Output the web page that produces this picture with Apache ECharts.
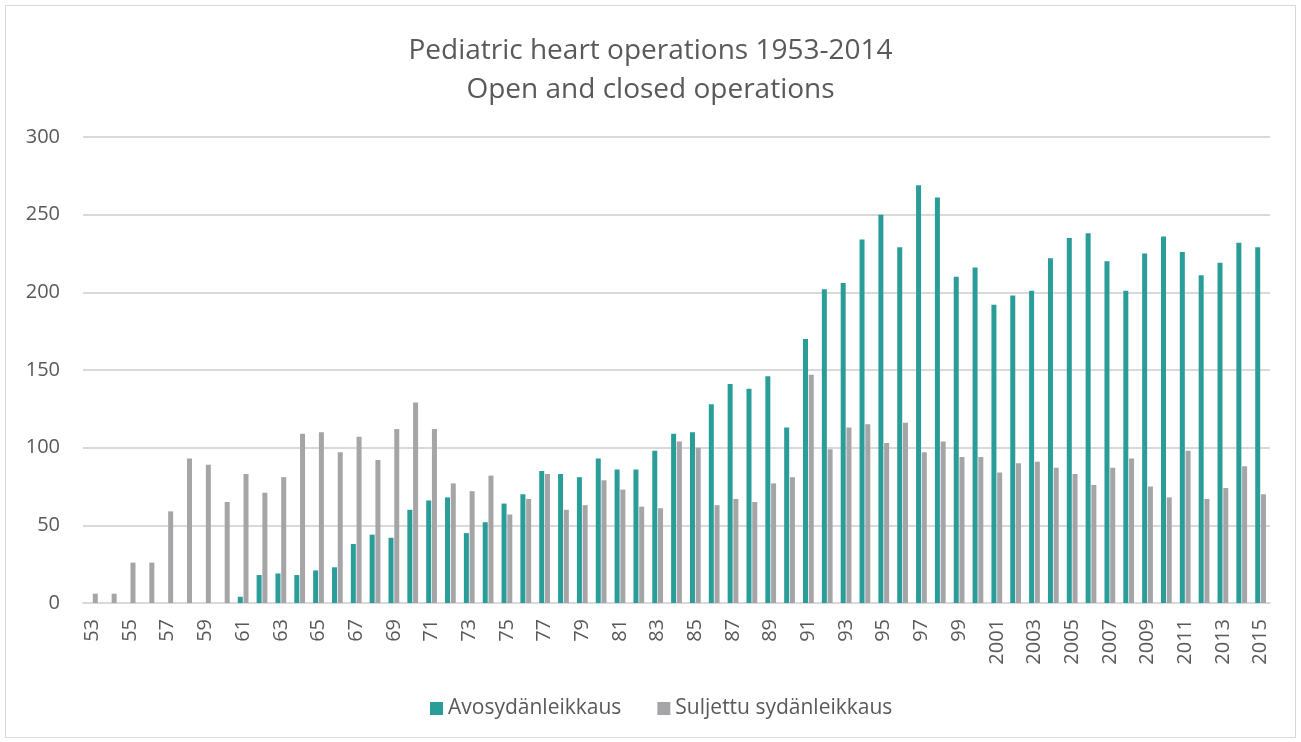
<!DOCTYPE html>
<html>
<head>
<meta charset="utf-8">
<script src="https://cdn.jsdelivr.net/npm/echarts@6/dist/echarts.min.js"></script>
<style>
  html, body { margin: 0; padding: 0; background: #fff; }
  #main { position: absolute; left: 5px; top: 5px; width: 1289px; height: 731px; border: 1px solid #d9d9d9; }
</style>
</head>
<body>
<div id="main"></div>
<script>
const years = ['53','54','55','56','57','58','59','60','61','62','63','64','65','66','67','68','69','70','71','72',
  '73','74','75','76','77','78','79','80','81','82','83','84','85','86','87','88','89','90','91','92','93','94','95',
  '96','97','98','99','2000','2001','2002','2003','2004','2005','2006','2007','2008','2009','2010','2011','2012',
  '2013','2014','2015']

const avoValues = [0,0,0,0,0,0,0,0,4,18,19,18,21,23,38,44,42,60,66,68,
  45,52,64,70,85,83,81,93,86,86,98,109,110,128,141,138,146,113,170,202,206,234,250,
  229,269,261,210,216,192,198,201,222,235,238,220,201,225,236,226,211,
  219,232,229]

const suljettuValues = [6,6,26,26,59,93,89,65,83,71,81,109,110,97,107,92,112,129,112,77,
  72,82,57,67,83,60,63,79,73,62,61,104,100,63,67,65,77,81,147,99,113,115,103,
  116,97,104,94,94,84,90,91,87,83,76,87,93,75,68,98,67,
  74,88,70]

const yTicks = [0, 50, 100, 150, 200, 250, 300]

const fontFam = '"Open Sans", "Liberation Sans", sans-serif'
const textCol = '#595959'

let myChart = echarts.init(document.getElementById('main'))
myChart.setOption({
  animation: false,
  color: ['#2a9d99', '#a5a5a8'],
  title: {
    text: 'Pediatric heart operations 1953-2014\nOpen and closed operations',
    left: 'center',
    top: 21,
    textStyle: {
      fontFamily: fontFam,
      fontSize: 28,
      fontWeight: 'normal',
      color: textCol,
      lineHeight: 39
    }
  },
  legend: {
    bottom: 13,
    left: 419,
    itemWidth: 13,
    itemHeight: 13,
    itemGap: 36,
    icon: 'rect',
    textStyle: {
      fontFamily: fontFam,
      fontSize: 21,
      color: textCol
    }
  },
  grid: {
    left: 77,
    right: 25,
    top: 131,
    bottom: 134
  },
  xAxis: {
    type: 'category',
    data: years,
    axisLine: {
      lineStyle: { color: '#d9d9d9', width: 2 }
    },
    axisTick: { show: false },
    axisLabel: {
      interval: 1,
      rotate: 90,
      margin: 16,
      fontFamily: fontFam,
      fontSize: 20,
      color: textCol
    }
  },
  yAxis: {
    type: 'value',
    min: yTicks[0],
    max: yTicks[yTicks.length - 1],
    interval: 50,
    axisLine: { show: false },
    axisTick: { show: false },
    splitLine: {
      lineStyle: { color: '#d9d9d9', width: 2 }
    },
    axisLabel: {
      margin: 23,
      fontFamily: fontFam,
      fontSize: 20,
      color: textCol
    }
  },
  series: [
    {
      name: 'Avosydänleikkaus',
      type: 'bar',
      data: avoValues,
      barWidth: 5,
      barGap: '15%'
    },
    {
      name: 'Suljettu sydänleikkaus',
      type: 'bar',
      data: suljettuValues,
      barWidth: 5,
      barGap: '15%'
    }
  ]
})
</script>
</body>
</html>
